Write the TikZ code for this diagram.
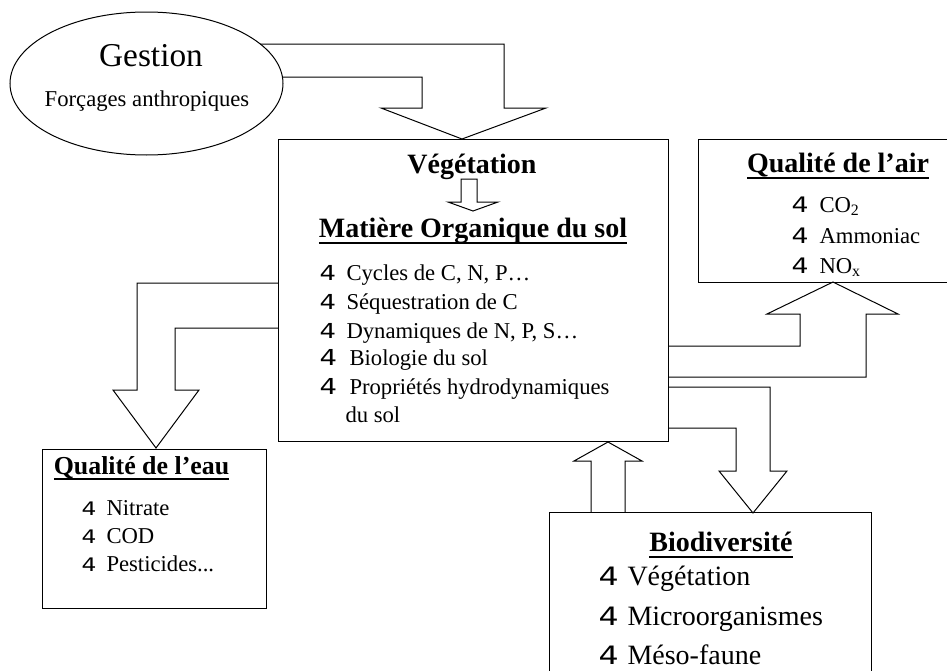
\documentclass[tikz,border=0pt]{standalone}
\usepackage{fontspec}
\setmainfont{Liberation Serif}
\newfontfamily\bulfont{DejaVu Sans}
\usepackage{tikz}
\tikzset{every picture/.style={line width=0.75pt}}
\newcommand{\puce}[2]{\makebox[#1][l]{\scalebox{1.25}[1]{\bulfont\fontsize{#2}{#2}\selectfont 4}}}
\newcommand{\souligne}[1]{\setbox0\hbox{#1}\rlap{\rule[-0.235em]{\wd0}{0.07em}}\box0}
\tikzset{
  titre/.style={font=\fontsize{21}{25}\selectfont\bfseries},
  liste/.style={font=\fontsize{17}{20}\selectfont},
  grand/.style={font=\fontsize{21}{25}\selectfont},
}

\begin{document}
\begin{tikzpicture}[x=0.75pt,y=0.75pt,yscale=-1,xscale=1]
\useasboundingbox (0,0) rectangle (947,671);

%Shape: Ellipse
\draw   (146.5,83.5) ellipse [x radius=136.5, y radius=71.5];
%Shape: Bent Arrow
\draw   (260,44) -- (504,44) -- (504,108) -- (546,108) -- (462,139) -- (381,108) -- (422,108) -- (422,77) -- (282.4,77) ;
%Shape: Rectangle
\draw   (278,139) rectangle (668,441) ;
%Shape: Down Arrow
\draw   (461,179) -- (477,179) -- (477,202) -- (498,202) -- (473,211) -- (448,202) -- (461,202) -- cycle ;
%Shape: Bent Arrow
\draw   (278,283) -- (137,283) -- (137,390) -- (113,390) -- (156,448) -- (199,390) -- (175,390) -- (175,328) -- (278,328) ;
%Shape: Rectangle
\draw   (42,449) rectangle (266,608) ;
%Shape: Rectangle
\draw   (698,139) rectangle (949,282) ;
%Shape: Bent Arrow
\draw   (668,346) -- (800,346) -- (800,314) -- (767,314) -- (833,282) -- (898,314) -- (866,314) -- (866,377) -- (668,377) ;
%Shape: Bent Arrow
\draw   (668,387) -- (770,387) -- (770,471) -- (787,471) -- (753,513) -- (719,471) -- (736,471) -- (736,428) -- (668,428) ;
%Shape: Up Arrow
\draw   (591,512) -- (591,461) -- (574,461) -- (608,442) -- (642,461) -- (625,461) -- (625,512) ;
%Shape: Rectangle
\draw   (549,512) rectangle (871,700) ;

% Text Node
\draw (151,66) node [anchor=base][inner sep=0.75pt]  [font=\fontsize{25}{30}\selectfont]  (gestion) {Gestion};
% Text Node
\draw (147,106) node [anchor=base][inner sep=0.75pt]  [font=\fontsize{17}{20}\selectfont]  (forcages) {Forçages anthropiques};
% Text Node
\draw (472,173) node [anchor=base][inner sep=0.75pt]  [titre]  (vegetation) {Végétation};
% Text Node
\draw (473,237) node [anchor=base][inner sep=0.75pt]  [titre]  (matiere) {\souligne{Matière Organique du sol}};
% Text Node
\draw (318,280) node [anchor=base west][inner sep=0.75pt]  [liste]  (mo1) {\puce{20.25pt}{15.5pt}Cycles de C, N, P…};
% Text Node
\draw (318,309) node [anchor=base west][inner sep=0.75pt]  [liste]  (mo2) {\puce{20.25pt}{15.5pt}Séquestration de C};
% Text Node
\draw (318,338) node [anchor=base west][inner sep=0.75pt]  [liste]  (mo3) {\puce{20.25pt}{15.5pt}Dynamiques de N, P, S…};
% Text Node
\draw (318,365) node [anchor=base west][inner sep=0.75pt]  [liste]  (mo4) {\puce{22.5pt}{16.5pt}Biologie du sol};
% Text Node
\draw (318,394) node [anchor=base west][inner sep=0.75pt]  [liste]  (mo5) {\puce{22.5pt}{16.5pt}Propriétés hydrodynamiques};
% Text Node
\draw (344,422) node [anchor=base west][inner sep=0.75pt]  [liste]  (mo6) {du sol};
% Text Node
\draw (838,172) node [anchor=base][inner sep=0.75pt]  [titre]  (air) {\souligne{Qualité de l’air}};
% Text Node
\draw (790,212) node [anchor=base west][inner sep=0.75pt]  [liste]  (air1) {\puce{21pt}{16pt}CO\textsubscript{2}};
% Text Node
\draw (790,243) node [anchor=base west][inner sep=0.75pt]  [liste]  (air2) {\puce{21pt}{16pt}Ammoniac};
% Text Node
\draw (790,273) node [anchor=base west][inner sep=0.75pt]  [liste]  (air3) {\puce{21pt}{16pt}NO\textsubscript{x}};
% Text Node
\draw (141.5,474) node [anchor=base][inner sep=0.75pt]  [font=\fontsize{19.4}{23}\selectfont\bfseries]  (eau) {\souligne{Qualité de l’eau}};
% Text Node
\draw (80,515) node [anchor=base west][inner sep=0.75pt]  [liste]  (eau1) {\puce{18.75pt}{14pt}Nitrate};
% Text Node
\draw (80,543) node [anchor=base west][inner sep=0.75pt]  [liste]  (eau2) {\puce{18.75pt}{14pt}COD};
% Text Node
\draw (80,571) node [anchor=base west][inner sep=0.75pt]  [liste]  (eau3) {\puce{18.75pt}{14pt}Pesticides...};
% Text Node
\draw (721,551) node [anchor=base][inner sep=0.75pt]  [titre]  (biodiv) {\souligne{Biodiversité}};
% Text Node
\draw (597,585) node [anchor=base west][inner sep=0.75pt]  [grand]  (bio1) {\puce{21.75pt}{19pt}Végétation};
% Text Node
\draw (597,625) node [anchor=base west][inner sep=0.75pt]  [grand]  (bio2) {\puce{21.75pt}{19pt}Microorganismes};
% Text Node
\draw (597,664) node [anchor=base west][inner sep=0.75pt]  [grand]  (bio3) {\puce{21.75pt}{19pt}Méso-faune};
\end{tikzpicture}
\end{document}
